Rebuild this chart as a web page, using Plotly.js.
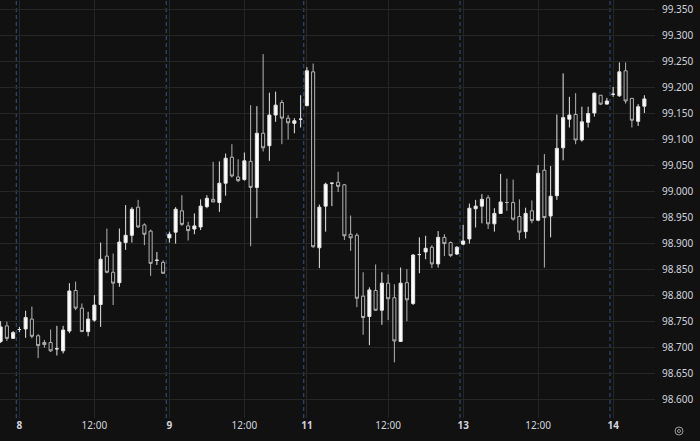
<!DOCTYPE html>
<html>
<head>
<meta charset="utf-8">
<script src="https://cdn.plot.ly/plotly-3.0.1.min.js"></script>
<style>
  html, body { margin: 0; padding: 0; background: #111111; }
  #chart { width: 700px; height: 441px; }
</style>
</head>
<body>
<div id="chart"></div>
<script>
// Hourly bars, index positions along the time axis
const openP  = [98.712,98.742,98.718,98.735,98.736,98.755,98.723,98.710,98.710,98.698,
                98.694,98.732,98.810,98.776,98.731,98.753,98.783,98.876,98.845,98.825,
                98.902,98.916,98.970,98.936,98.924,98.868,98.864,98.911,98.922,98.963,
                98.934,98.928,98.932,98.971,98.985,98.979,99.016,99.066,99.028,99.023,
                99.058,99.008,99.112,99.088,99.147,99.171,99.141,99.131,99.139,99.165,
                99.230,98.892,98.972,99.016,99.018,99.013,98.918,98.916,98.799,98.760,
                98.810,98.772,98.824,98.796,98.712,98.825,98.785,98.879,98.884,98.893,
                98.861,98.912,98.902,98.880,98.899,98.909,98.967,98.972,98.988,98.938,
                98.958,98.979,98.979,98.952,98.923,98.963,98.945,99.041,98.953,98.992,
                99.084,99.139,99.148,99.099,99.133,99.151,99.185,99.168,99.187,99.184,
                99.232,99.179,99.135,99.164];
const closeP = [98.740,98.718,98.729,98.735,98.758,98.722,98.704,98.706,98.694,98.698,
                98.734,98.809,98.776,98.731,98.755,98.782,98.870,98.845,98.824,98.903,
                98.916,98.966,98.932,98.918,98.862,98.868,98.843,98.918,98.966,98.937,
                98.925,98.934,98.972,98.987,98.980,99.016,99.064,99.030,99.021,99.059,
                99.008,99.112,99.084,99.147,99.166,99.141,99.132,99.136,99.139,99.232,
                98.894,98.970,99.014,99.016,99.010,98.915,98.911,98.795,98.758,98.811,
                98.772,98.824,98.794,98.713,98.824,98.792,98.878,98.879,98.891,98.861,
                98.912,98.900,98.877,98.893,98.905,98.968,98.972,98.985,98.938,98.958,
                98.980,98.979,98.947,98.922,98.958,98.944,99.035,98.950,98.991,99.083,
                99.142,99.147,99.099,99.134,99.150,99.189,99.168,99.174,99.187,99.230,
                99.174,99.137,99.163,99.178];
const highP  = [98.751,98.750,98.732,98.740,98.771,98.779,98.726,98.715,98.735,98.742,
                98.742,98.824,98.827,98.785,98.769,98.801,98.902,98.929,98.881,98.929,
                98.974,98.970,98.984,98.939,98.927,98.884,98.868,98.923,98.970,98.993,
                98.942,98.958,98.985,98.993,99.057,99.058,99.073,99.091,99.062,99.075,
                99.166,99.164,99.264,99.190,99.192,99.176,99.147,99.141,99.185,99.239,
                99.246,98.975,99.017,99.017,99.038,99.014,98.954,98.920,98.845,98.816,
                98.860,98.845,98.841,98.822,98.854,98.851,98.880,98.912,98.915,98.897,
                98.924,98.918,98.904,98.895,98.936,98.977,98.984,98.995,98.993,98.968,
                99.034,99.025,99.023,98.985,98.969,98.983,99.051,99.072,99.049,99.148,
                99.227,99.182,99.189,99.163,99.163,99.190,99.185,99.180,99.201,99.248,
                99.248,99.179,99.168,99.185];
const lowP   = [98.709,98.713,98.718,98.730,98.719,98.718,98.680,98.700,98.692,98.685,
                98.689,98.728,98.772,98.730,98.722,98.750,98.740,98.843,98.782,98.817,
                98.888,98.902,98.930,98.897,98.838,98.859,98.843,98.902,98.900,98.934,
                98.906,98.918,98.926,98.968,98.980,98.961,98.992,99.027,99.018,99.021,
                98.895,98.949,99.077,99.059,99.134,99.091,99.100,99.112,99.123,99.164,
                98.892,98.853,98.923,98.972,98.999,98.907,98.886,98.778,98.725,98.705,
                98.771,98.744,98.753,98.672,98.711,98.751,98.782,98.843,98.870,98.853,
                98.854,98.876,98.874,98.878,98.897,98.900,98.931,98.939,98.928,98.923,
                98.957,98.963,98.944,98.907,98.910,98.939,98.943,98.854,98.912,98.984,
                99.060,99.123,99.091,99.096,99.123,99.144,99.166,99.167,99.182,99.182,
                99.169,99.123,99.126,99.151];
const barIndex = openP.map((_, i) => i);

// time axis labels (bar index where each label sits)
const tickIdx    = [3, 15, 27, 39, 49, 62, 74, 86, 98];
const tickLabels = ['<b>8</b>', '12:00', '<b>9</b>', '12:00', '<b>11</b>', '12:00', '<b>13</b>', '12:00', '<b>14</b>'];
// session starts (dashed separators just before the first bar of each day)
const sessionStartIdx = [3, 27, 49, 74, 98];

// price axis ticks
const priceTicks = [98.60,98.65,98.70,98.75,98.80,98.85,98.90,98.95,99.00,99.05,99.10,99.15,99.20,99.25,99.30,99.35];

const trace = {
  type: 'candlestick',
  x: barIndex,
  open: openP, high: highP, low: lowP, close: closeP,
  increasing: { line: { color: '#e6e6e6', width: 1 }, fillcolor: '#ffffff' },
  decreasing: { line: { color: '#b4b4b4', width: 1 }, fillcolor: '#111111' },
  whiskerwidth: 0,
  hoverinfo: 'skip'
};

const shapes = sessionStartIdx.map(i => ({
  type: 'line', xref: 'x', yref: 'paper',
  x0: i - 0.5, x1: i - 0.5, y0: 0, y1: 1,
  line: { color: '#34558a', width: 1, dash: '4px,3px' },
  layer: 'below'
}));
// settings icon ring in the bottom-right corner
shapes.push({ type: 'circle', xref: 'paper', yref: 'paper',
  x0: 1.0 + 20/655, x1: 1.0 + 28/655, y0: -17/418, y1: -9/418,
  line: { color: '#9a9a9a', width: 1 } });
shapes.push({ type: 'circle', xref: 'paper', yref: 'paper',
  x0: 1.0 + 22.5/655, x1: 1.0 + 25.5/655, y0: -14.5/418, y1: -11.5/418,
  line: { color: '#9a9a9a', width: 1 } });

const layout = {
  width: 700, height: 441,
  paper_bgcolor: '#111111', plot_bgcolor: '#111111',
  margin: { l: 0, r: 45, t: 0, b: 23, pad: 0 },
  showlegend: false,
  font: { family: 'Noto Sans, sans-serif', size: 10, color: '#d1d4dc' },
  xaxis: {
    type: 'linear',
    range: [-0.1, 104.7],
    tickmode: 'array', tickvals: tickIdx, ticktext: tickLabels,
    showgrid: true, gridcolor: '#262626', gridwidth: 1,
    zeroline: false, showline: false, ticks: '',
    rangeslider: { visible: false },
    automargin: false, fixedrange: true,
    tickfont: { size: 10, color: '#d1d4dc' }
  },
  yaxis: {
    side: 'right',
    range: [98.565, 99.368],
    tickmode: 'array', tickvals: priceTicks,
    ticktext: priceTicks.map(v => v.toFixed(3)),
    showgrid: true, gridcolor: '#262626', gridwidth: 1,
    zeroline: false, showline: false, ticks: '',
    ticklabelstandoff: 6,
    automargin: false, fixedrange: true,
    tickfont: { size: 10, color: '#d1d4dc' }
  },
  shapes: shapes
};

Plotly.newPlot('chart', [trace], layout, { displayModeBar: false, staticPlot: true });
</script>
</body>
</html>
